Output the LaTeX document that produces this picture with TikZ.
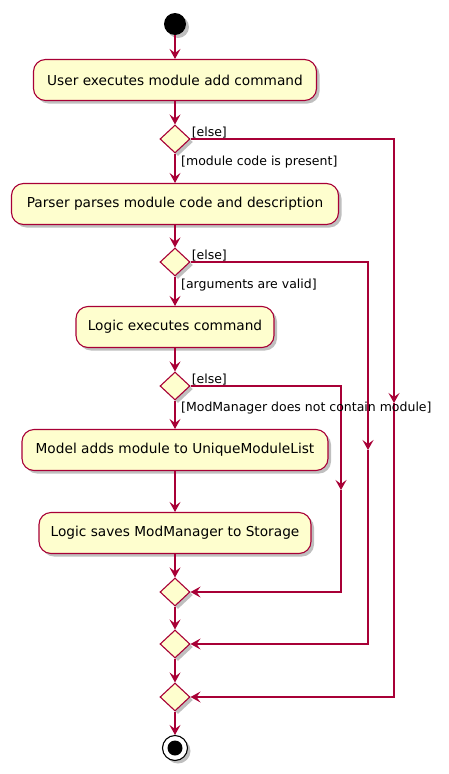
\documentclass[tikz,border=0pt]{standalone}
\usepackage{fontspec}
\setmainfont{DejaVu Sans}
\usetikzlibrary{arrows.meta,shapes.geometric,shadows}
\definecolor{pred}{HTML}{A80036}
\definecolor{pfill}{HTML}{FEFECE}
\begin{document}
\begin{tikzpicture}[x=1pt,y=-1pt,
  shad/.style={drop shadow={shadow xshift=3pt,shadow yshift=-3pt,opacity=0.25,fill=black}},
  act/.style={draw=pred,fill=pfill,rounded corners=12pt,line width=1.1pt,minimum height=41pt,inner sep=0pt,font=\fontsize{13.7}{16}\selectfont,shad},
  dec/.style={diamond,draw=pred,fill=pfill,line width=1.1pt,minimum width=30pt,minimum height=28pt,inner sep=0pt,shad},
  flow/.style={draw=pred,line width=1.1pt,-{Stealth[length=10pt,width=11pt,inset=4pt]}},
  lbl/.style={font=\fontsize{12.5}{14}\selectfont,inner sep=1pt}]
\useasboundingbox (0,0) rectangle (449,774);
\node[circle,fill=black,minimum size=22pt,inner sep=0pt,shad] (start) at (175,24) {};
\node[act,minimum width=283pt] (b1) at (175,80) {User executes module add command};
\node[dec] (d1) at (175,139) {};
\node[act,minimum width=327pt] (b2) at (175,204) {Parser parses module code and description};
\node[dec] (d2) at (175,262) {};
\node[act,minimum width=198pt] (b3) at (175,327) {Logic executes command};
\node[dec] (d3) at (175,386) {};
\node[act,minimum width=306pt] (b4) at (175,450) {Model adds module to UniqueModuleList};
\node[act,minimum width=272pt] (b5) at (175,533) {Logic saves ModManager to Storage};
\node[dec] (m1) at (175,592) {};
\node[dec] (m2) at (175,644) {};
\node[dec] (m3) at (175,697) {};
\node[circle,draw=black,fill=white,line width=1.1pt,minimum size=25pt,inner sep=0pt,shad] (end) at (175,748) {};
\node[circle,fill=black,minimum size=15pt,inner sep=0pt] (endin) at (end.center) {};
% main flow
\draw[flow] (start) -- (b1);
\draw[flow] (b1) -- (d1);
\draw[flow] (d1) -- (b2);
\draw[flow] (b2) -- (d2);
\draw[flow] (d2) -- (b3);
\draw[flow] (b3) -- (d3);
\draw[flow] (d3) -- (b4);
\draw[flow] (b4) -- (b5);
\draw[flow] (b5) -- (m1);
\draw[flow] (m1) -- (m2);
\draw[flow] (m2) -- (m3);
\draw[flow] (m3) -- (end);
% else branches
\coordinate (a1) at (394,403);
\coordinate (a2) at (368,450);
\coordinate (a3) at (341,490);
\draw[flow] (d1.east) -| (a1);
\draw[flow] (a1) |- (m3.east);
\draw[flow] (d2.east) -| (a2);
\draw[flow] (a2) |- (m2.east);
\draw[flow] (d3.east) -| (a3);
\draw[flow] (a3) |- (m1.east);
% labels
\node[lbl,anchor=south west] (e1) at (d1.east) {[else]};
\node[lbl,anchor=south west] (e2) at (d2.east) {[else]};
\node[lbl,anchor=south west] (e3) at (d3.east) {[else]};
\node[lbl,anchor=west] (l1) at (180,162) {[module code is present]};
\node[lbl,anchor=west] (l2) at (180,285) {[arguments are valid]};
\node[lbl,anchor=west] (l3) at (180,408) {[ModManager does not contain module]};
\end{tikzpicture}
\end{document}
